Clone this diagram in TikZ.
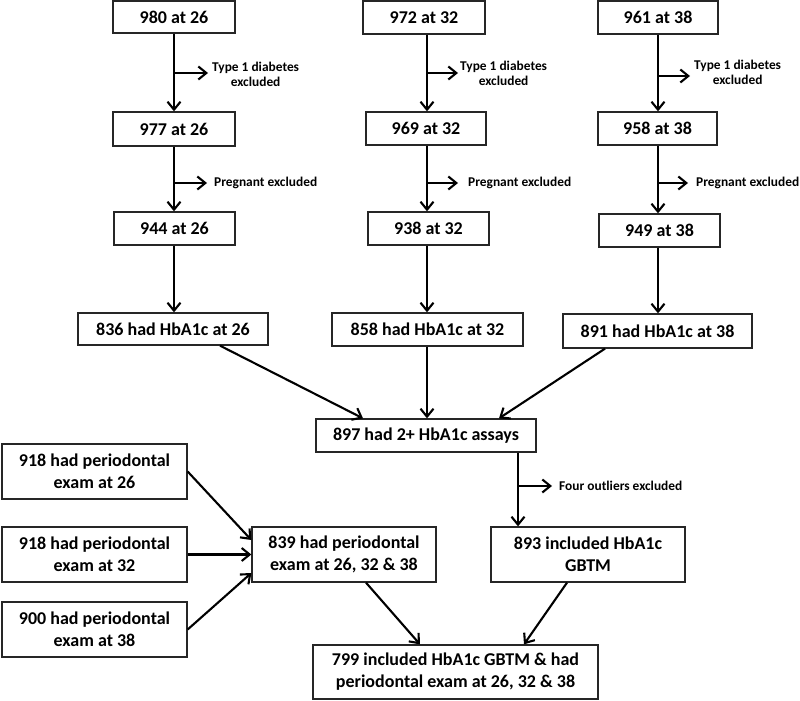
\documentclass[tikz,border=0pt]{standalone}
\usepackage{fontspec}
\setmainfont{Carlito}
\usetikzlibrary{arrows.meta}
\begin{document}
\begin{tikzpicture}[x=1pt,y=-1pt,
 box/.style={draw=black!85, line width=1.3pt, inner sep=0pt, align=center, font=\fontsize{18}{22}\selectfont\bfseries},
 lbl/.style={inner sep=0pt, anchor=west, align=center, font=\fontsize{13.4}{15}\selectfont\bfseries},
 arr/.style={line width=2.1pt, -{Straight Barb[length=8pt,width=13pt]}}]
\useasboundingbox (0,0) rectangle (800,701);
\fill[white] (0,0) rectangle (800,701);
\coordinate (colA) at (174,0);
\coordinate (colB) at (427,0);
\coordinate (colC) at (658,0);
\coordinate (colD) at (518,0);
% column 26
\node[box, minimum width=122pt, minimum height=32pt] (a1) at (174,17) {980 at 26};
\node[box, minimum width=122pt, minimum height=34pt] (a2) at (174,129) {977 at 26};
\node[box, minimum width=121pt, minimum height=33pt] (a3) at (174.5,228.5) {944 at 26};
\node[box, minimum width=190pt, minimum height=32pt] (a4) at (173,329) {836 had HbA1c at 26};
% column 32
\node[box, minimum width=122pt, minimum height=33pt] (b1) at (424,17.5) {972 at 32};
\node[box, minimum width=120pt, minimum height=33pt] (b2) at (426,128.5) {969 at 32};
\node[box, minimum width=121pt, minimum height=33pt] (b3) at (428.5,228.5) {938 at 32};
\node[box, minimum width=191pt, minimum height=33pt] (b4) at (427.5,329.5) {858 had HbA1c at 32};
% column 38
\node[box, minimum width=120pt, minimum height=33pt] (c1) at (658,17.5) {961 at 38};
\node[box, minimum width=119pt, minimum height=33pt] (c2) at (657.5,128.5) {958 at 38};
\node[box, minimum width=121pt, minimum height=33pt] (c3) at (659.5,230.5) {949 at 38};
\node[box, minimum width=189pt, minimum height=34pt] (c4) at (657.5,331) {891 had HbA1c at 38};
% lower part
\node[box, minimum width=220pt, minimum height=33pt] (d) at (426,435.5) {897 had 2+ HbA1c assays};
\node[box, minimum width=194pt, minimum height=55pt] (e) at (588,554.5) {893 included HbA1c\\GBTM};
\node[box, minimum width=184pt, minimum height=55pt] (f) at (344,554.5) {839 had periodontal\\exam at 26, 32 \& 38};
\node[box, minimum width=185pt, minimum height=55pt] (p1) at (94.5,471.5) {918 had periodontal\\exam at 26};
\node[box, minimum width=185pt, minimum height=55pt] (p2) at (94.5,554.5) {918 had periodontal\\exam at 32};
\node[box, minimum width=185pt, minimum height=55pt] (p3) at (94.5,629.5) {900 had periodontal\\exam at 38};
\node[box, minimum width=285pt, minimum height=54pt] (g) at (455.5,672) {799 included HbA1c GBTM \& had\\periodontal exam at 26, 32 \& 38};
% side labels
\node[lbl] (la1) at (212,74) {Type 1 diabetes\\excluded};
\node[lbl] (la2) at (214,183) {Pregnant excluded};
\node[lbl] (lb1) at (460,73) {Type 1 diabetes\\excluded};
\node[lbl] (lb2) at (468,183) {Pregnant excluded};
\node[lbl] (lc1) at (694,72.5) {Type 1 diabetes\\excluded};
\node[lbl] (lc2) at (696,183) {Pregnant excluded};
\node[lbl] (ld) at (559,486) {Four outliers excluded};
% column arrows
\draw[arr] (a1.south -| colA) -- (a2.north -| colA);
\draw[arr] (a2.south -| colA) -- (a3.north -| colA);
\draw[arr] (a3.south -| colA) -- (a4.north -| colA);
\draw[arr] (b1.south -| colB) -- (b2.north -| colB);
\draw[arr] (b2.south -| colB) -- (b3.north -| colB);
\draw[arr] (b3.south -| colB) -- (b4.north -| colB);
\draw[arr] (c1.south -| colC) -- (c2.north -| colC);
\draw[arr] (c2.south -| colC) -- (c3.north -| colC);
\draw[arr] (c3.south -| colC) -- (c4.north -| colC);
\draw[arr] (d.south -| colD) -- (e.north -| colD);
% exclusion branches
\draw[arr] ([yshift=1pt]la1.west -| colA) -- ([xshift=-4pt,yshift=1pt]la1.west);
\draw[arr] (la2.west -| colA) -- ([xshift=-7pt]la2.west);
\draw[arr] (lb1.west -| colB) -- ([xshift=-2pt]lb1.west);
\draw[arr] (lb2.west -| colB) -- ([xshift=-10pt]lb2.west);
\draw[arr] ([yshift=-3.5pt]lc1.west -| colC) -- ([xshift=-4pt,yshift=-3.5pt]lc1.west);
\draw[arr] (lc2.west -| colC) -- ([xshift=-8pt]lc2.west);
\draw[arr] (ld.west -| colD) -- ([xshift=-7pt]ld.west);
% merging arrows
\draw[arr] ([xshift=47pt]a4.south) -- ([xshift=-63pt]d.north);
\draw[arr] (b4.south -| colB) -- (d.north -| colB);
\draw[arr] ([xshift=-52.5pt]c4.south) -- ([xshift=73pt]d.north);
\draw[arr] (p1.east) -- ([yshift=14.5pt]f.west);
\draw[arr] (p2.east) -- (f.west);
\draw[arr] (p3.east) -- ([yshift=-18.5pt]f.west);
\draw[arr] ([xshift=22pt]f.south) -- ([xshift=-35.5pt]g.north);
\draw[arr] ([xshift=-21pt]e.south) -- ([xshift=68.5pt]g.north);
\end{tikzpicture}
\end{document}
